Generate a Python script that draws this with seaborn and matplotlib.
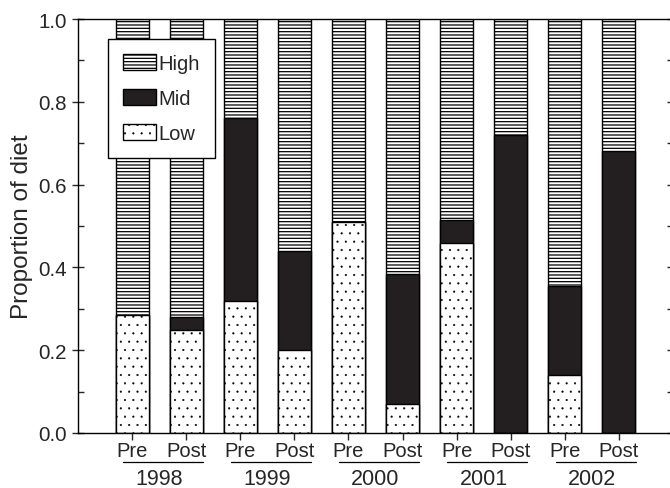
import numpy as np
import pandas as pd
import matplotlib
matplotlib.use("Agg")
import matplotlib.pyplot as plt
import seaborn as sns
from matplotlib.patches import Patch

# data
years = ["1998", "1999", "2000", "2001", "2002"]
periods = ["Pre", "Post"]
low = [0.285, 0.25, 0.32, 0.20, 0.51, 0.07, 0.46, 0.0, 0.14, 0.0]
mid = [0.0, 0.03, 0.44, 0.24, 0.0, 0.315, 0.055, 0.72, 0.215, 0.68]
high = [1 - l - m for l, m in zip(low, mid)]
yticks = [0.0, 0.2, 0.4, 0.6, 0.8, 1.0]

groups = [f"{y} {p}" for y in years for p in periods]
df = pd.DataFrame({"group": groups, "low": low, "mid": mid, "high": high})
df["low_mid"] = df["low"] + df["mid"]
df["total"] = df["low_mid"] + df["high"]

sns.set_style("ticks")
plt.rcParams["font.family"] = ["Liberation Sans", "DejaVu Sans"]

MID_COLOR = "#231f20"
HIGH_HATCH = "-----"
LOW_HATCH = ".."

fig = plt.figure(figsize=(6.7, 4.89), dpi=100)
ax = fig.add_axes([78 / 670, 55 / 489, 595 / 670, 414 / 489])

bar_kw = dict(width=0.61, edgecolor="black", linewidth=1.0, order=groups, ax=ax)
with plt.rc_context({"hatch.linewidth": 0.9}):
    sns.barplot(data=df, x="group", y="total", color="white", hatch=HIGH_HATCH, **bar_kw)
sns.barplot(data=df, x="group", y="low_mid", color=MID_COLOR, **bar_kw)
with plt.rc_context({"hatch.linewidth": 0.3}):
    sns.barplot(data=df, x="group", y="low", color="white", hatch=LOW_HATCH, **bar_kw)

# keep bar faces exactly as set (seaborn may desaturate)
n = len(groups)
for i, p in enumerate(ax.patches):
    layer = i // n
    p.set_facecolor(["white", MID_COLOR, "white"][layer])
    if hasattr(p, "set_hatch_linewidth"):
        p.set_hatch_linewidth([0.9, 0.9, 0.3][layer])

ax.set_xlim(-1, 10)
ax.set_ylim(0, 1.0)
ax.set_xlabel("")
ax.set_ylabel("Proportion of diet", fontsize=17.5)
ax.yaxis.set_label_coords(-0.076, 0.5)

ax.set_xticks(range(n))
ax.set_xticklabels([p for _ in years for p in periods], fontsize=14.5)
ax.set_yticks(yticks)
ax.set_yticks([0.1, 0.3, 0.5, 0.7, 0.9], minor=True)
ax.set_yticklabels([f"{v:.1f}" for v in yticks], fontsize=14.8)

ax.tick_params(axis="y", which="major", direction="inout", length=8, width=1.0,
               left=True, right=True, pad=4)
ax.tick_params(axis="y", which="minor", direction="in", length=4, width=1.0,
               left=True, right=True)
ax.tick_params(axis="x", which="major", direction="out", length=5, width=1.0, pad=1)

for s in ax.spines.values():
    s.set_visible(True)
    s.set_linewidth(1.0)
    s.set_color("black")

# year labels with a line under each Pre/Post pair
trans = ax.get_xaxis_transform()
for i, y in enumerate(years):
    x0 = 2 * i
    ax.plot([x0 - 0.17, x0 + 1.31], [-0.070, -0.070], color="black", lw=0.9,
            transform=trans, clip_on=False)
    ax.text(x0 + 0.5, -0.109, y, transform=trans, ha="center", va="center",
            fontsize=15.5)

handles = [
    Patch(facecolor="white", edgecolor="black", hatch=HIGH_HATCH, label="High"),
    Patch(facecolor=MID_COLOR, edgecolor="black", label="Mid"),
    Patch(facecolor="white", edgecolor="black", hatch=LOW_HATCH, label="Low"),
]
leg = ax.legend(handles=handles, loc="upper left", bbox_to_anchor=(0.05, 0.952),
                borderaxespad=0, fontsize=14.5, frameon=True, fancybox=False,
                handlelength=1.65, handleheight=0.85, handletextpad=0.12,
                labelspacing=0.8, borderpad=0.75)
leg.get_frame().set_edgecolor("black")
leg.get_frame().set_linewidth(1.0)
leg.get_frame().set_alpha(1)
for h, lw in zip(leg.get_patches(), [0.9, 0.9, 0.3]):
    if hasattr(h, "set_hatch_linewidth"):
        h.set_hatch_linewidth(lw)

fig.savefig("out.png", dpi=100)
